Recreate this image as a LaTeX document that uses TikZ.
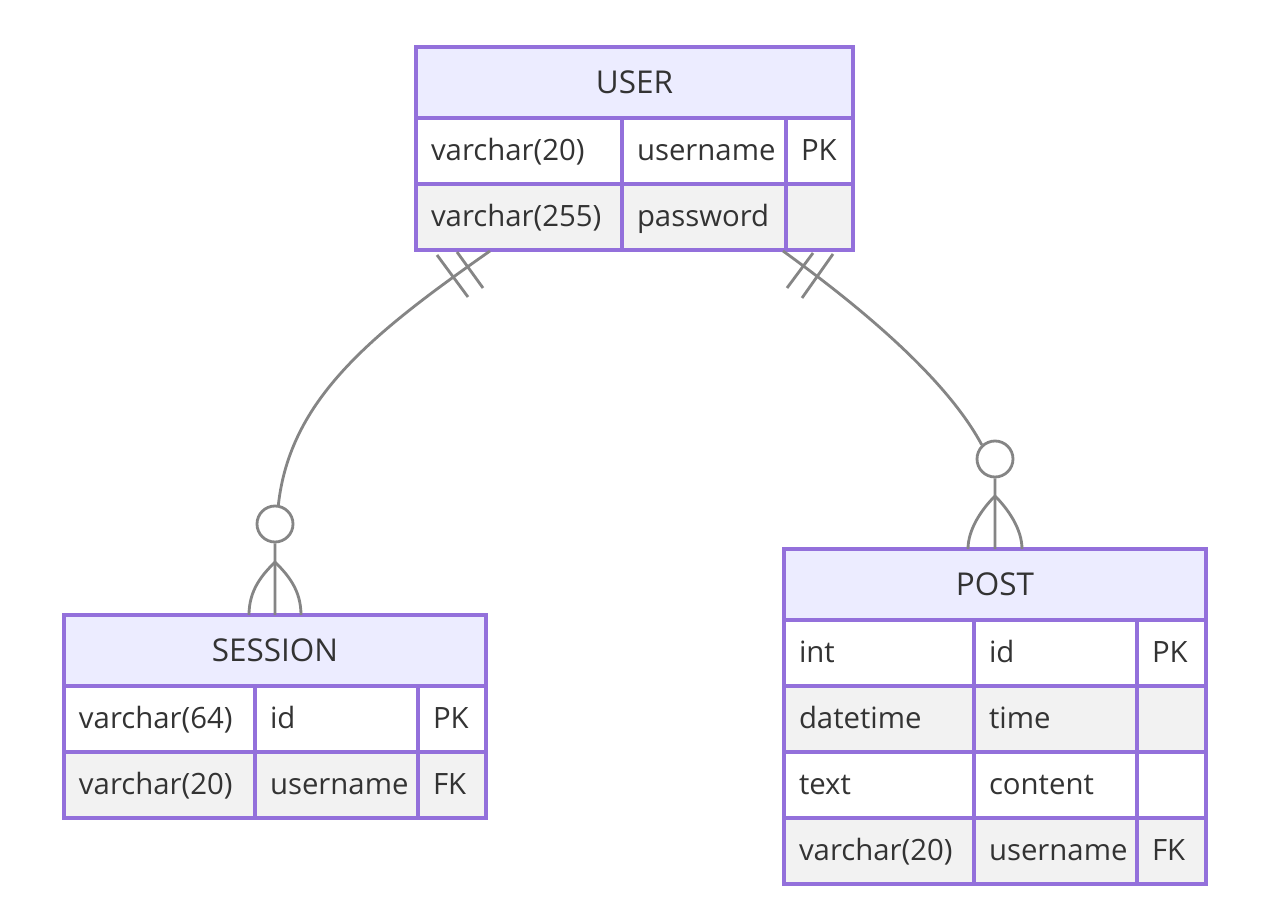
\documentclass[tikz,border=0pt]{standalone}
\usepackage{fontspec}
\setmainfont{Open Sans}
\usepackage{tikz}
\usetikzlibrary{positioning}
\definecolor{erborder}{HTML}{9370DB}
\definecolor{erhead}{HTML}{ECECFF}
\definecolor{eralt}{HTML}{F2F2F2}
\definecolor{ertext}{HTML}{333333}
\definecolor{erline}{HTML}{858585}
\begin{document}
\begin{tikzpicture}
[x=0.02cm,y=-0.02cm,
head/.style={rectangle,draw=erborder,fill=erhead,line width=1.9pt,anchor=north west,outer sep=0pt,inner sep=0pt,minimum height=1.42cm,text=ertext,font=\fontsize{17.9}{20}\selectfont},
cell/.style={rectangle,draw=erborder,fill=white,line width=1.9pt,anchor=north west,outer sep=0pt,inner xsep=0.3cm,inner ysep=0pt,minimum height=1.32cm,align=left,text height=11pt,text depth=0pt,text=ertext,font=\fontsize{16.7}{19}\selectfont},
altcell/.style={cell,fill=eralt},
zero/.style={circle,draw=erline,fill=white,line width=1.6pt,minimum size=0.72cm,inner sep=0pt},
rel/.style={draw=erline,line width=1.6pt}]

\fill[white] (0,0) rectangle (1268,902);
\useasboundingbox (0,0) rectangle (1268,902);

\node[head,minimum width=8.74cm] (user) at (416,47) {USER};
\node[cell,text width=3.52cm] (u11) at (416,118) {varchar(20)};
\node[cell,text width=2.68cm] (u12) at (622,118) {username};
\node[cell,text width=0.74cm] (u13) at (786,118) {PK};
\node[altcell,text width=3.52cm] (u21) at (416,184) {varchar(255)};
\node[altcell,text width=2.68cm] (u22) at (622,184) {password};
\node[altcell,text width=0.74cm] (u23) at (786,184) {};

\node[head,minimum width=8.44cm] (session) at (64,615) {SESSION};
\node[cell,text width=3.22cm] (s11) at (64,686) {varchar(64)};
\node[cell,text width=2.66cm] (s12) at (255,686) {id};
\node[cell,text width=0.76cm] (s13) at (418,686) {PK};
\node[altcell,text width=3.22cm] (s21) at (64,752) {varchar(20)};
\node[altcell,text width=2.66cm] (s22) at (255,752) {username};
\node[altcell,text width=0.76cm] (s23) at (418,752) {FK};

\node[head,minimum width=8.44cm] (post) at (784,549) {POST};
\node[cell,text width=3.2cm] (p11) at (784,620) {int};
\node[cell,text width=2.66cm] (p12) at (974,620) {id};
\node[cell,text width=0.78cm] (p13) at (1137,620) {PK};
\node[altcell,text width=3.2cm] (p21) at (784,686) {datetime};
\node[altcell,text width=2.66cm] (p22) at (974,686) {time};
\node[altcell,text width=0.78cm] (p23) at (1137,686) {};
\node[cell,text width=3.2cm] (p31) at (784,752) {text};
\node[cell,text width=2.66cm] (p32) at (974,752) {content};
\node[cell,text width=0.78cm] (p33) at (1137,752) {};
\node[altcell,text width=3.2cm] (p41) at (784,818) {varchar(20)};
\node[altcell,text width=2.66cm] (p42) at (974,818) {username};
\node[altcell,text width=0.78cm] (p43) at (1137,818) {FK};

\coordinate (us) at (490,251);
\coordinate (up) at (783,251);
\node[zero] (cs) at (275,524) {};
\node[zero] (cp) at (995,459) {};
\coordinate (fs) at (275,562);
\coordinate (fp) at (995,496);

\draw[rel] (us) .. controls (370,335) and (290,400) .. (cs.80);
\draw[rel] (437,255) -- (468,297);
\draw[rel] (457,252) -- (483,288);
\draw[rel] (cs.south) -- (session.north);
\draw[rel] (fs) .. controls (262,575) and (249,590) .. (249,615);
\draw[rel] (fs) .. controls (288,575) and (301,590) .. (301,615);

\draw[rel] (up) .. controls (895,332) and (955,395) .. (cp.133);
\draw[rel] (813,253) -- (787,288);
\draw[rel] (833,254) -- (802,298);
\draw[rel] (cp.south) -- (post.north);
\draw[rel] (fp) .. controls (982,509) and (968,529) .. (968,549);
\draw[rel] (fp) .. controls (1008,509) and (1022,529) .. (1022,549);
\end{tikzpicture}
\end{document}
